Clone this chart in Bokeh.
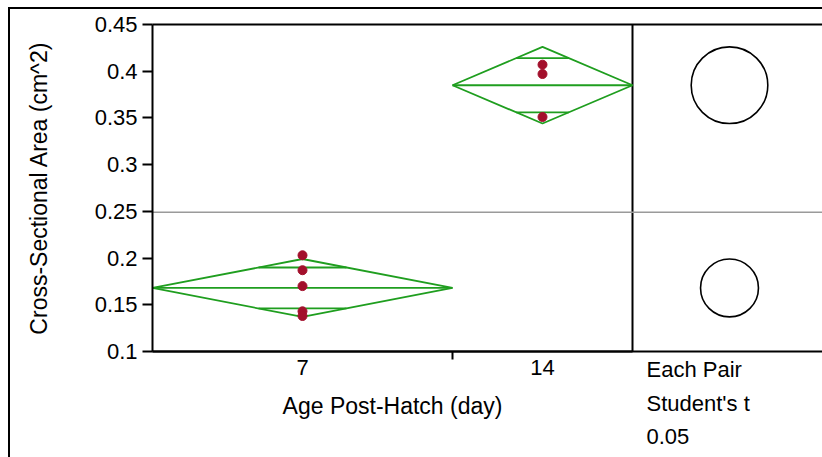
from bokeh.plotting import figure
from bokeh.layouts import column
from bokeh.models import Range1d, FixedTicker
from bokeh.core.properties import value
from bokeh.embed import file_html
from bokeh.resources import INLINE
import math

# ---------------- data ----------------
groups = ["7", "14"]
group_n = [5, 3]
group_means = [0.168, 0.385]
group_ci = [0.031, 0.041]          # half-height of the means diamonds / circle radii
day7_values = [0.203, 0.187, 0.170, 0.143, 0.138]
day14_values = [0.407, 0.397, 0.351]
grand_mean = 0.249
y_ticks = [0.1, 0.15, 0.2, 0.25, 0.3, 0.35, 0.4, 0.45]
y_tick_labels = ["0.1", "0.15", "0.2", "0.25", "0.3", "0.35", "0.4", "0.45"]
x_title = "Age Post-Hatch (day)"
y_title = "Cross-Sectional Area (cm^2)"
compare_texts = ["Each Pair", "Student's t", "0.05"]

FONT = "Liberation Sans"
TICK_FS = "22px"
LAB_FS = "23px"
TXT_FS = "22px"
GREEN = "#1f9e1f"
RED = "#a3102c"

# ---------------- layout constants (pixels, relative to the canvas) ----------------
W, H = 812, 448
PLOT_LEFT, PLOT_TOP = 142, 15      # where the main plot area starts
PLOT_W, PLOT_H = 480, 327          # pixel size of the main plot area
Y0, Y1 = 0.1, 0.45
CIRCLE_PX = 97                     # circle centre, px right of the separator
TEXT_PX = 14                       # texts start, px right of the separator
TEXT_PY = [360, 393.5, 426.5]      # vertical centres of the three texts
YLABEL_PX = 28                     # centre of the rotated y title

# group spans along x (width proportional to n)
starts, ends, centers = [], [], []
acc = 0
for n in group_n:
    starts.append(acc)
    ends.append(acc + n)
    centers.append(acc + n / 2)
    acc += n
total_n = acc

ux = total_n / PLOT_W              # x units per pixel
uy = (Y1 - Y0) / PLOT_H            # y units per pixel


def px_x(px):
    return (px - PLOT_LEFT) * ux


def px_y(py):
    return Y1 - (py - PLOT_TOP) * uy


x_start, x_end = px_x(0), px_x(W)
y_start, y_end = px_y(H), px_y(0)

p = figure(width=W, height=H, x_range=Range1d(x_start, x_end), y_range=Range1d(y_start, y_end),
           output_backend="svg", toolbar_location=None,
           min_border_left=0, min_border_right=0, min_border_top=0, min_border_bottom=0)
p.outline_line_color = None
p.xgrid.visible = False
p.ygrid.visible = False
p.background_fill_color = "white"
p.border_fill_color = "white"

# y axis, fixed at the left edge of the data area
yax = p.yaxis[0]
yax.fixed_location = 0
yax.bounds = (Y0, Y1)
yax.ticker = FixedTicker(ticks=y_ticks)
yax.major_label_overrides = {t: l for t, l in zip(y_ticks, y_tick_labels)}
yax.major_tick_out = 10
yax.major_tick_in = 0
yax.minor_tick_out = 0
yax.minor_tick_in = 0
yax.major_tick_line_width = 2
yax.axis_line_width = 2
yax.major_label_standoff = 5
yax.major_label_text_font = FONT
yax.major_label_text_font_size = TICK_FS
yax.major_label_text_color = "black"

# x axis, fixed at the bottom of the data range
xax = p.xaxis[0]
xax.fixed_location = Y0
xax.bounds = (0, total_n)
xax.ticker = FixedTicker(ticks=centers, minor_ticks=ends[:-1])
xax.major_label_overrides = {c: g for c, g in zip(centers, groups)}
xax.major_tick_out = 0
xax.major_tick_in = 0
xax.minor_tick_out = 8
xax.minor_tick_in = 0
xax.minor_tick_line_width = 2
xax.minor_tick_line_color = "black"
xax.axis_line_width = 2
xax.major_label_standoff = 0
xax.major_label_text_font = FONT
xax.major_label_text_font_size = TICK_FS
xax.major_label_text_color = "black"
xax.axis_label = x_title
xax.axis_label_text_font = FONT
xax.axis_label_text_font_size = LAB_FS
xax.axis_label_text_font_style = "normal"
xax.axis_label_text_color = "black"
xax.axis_label_standoff = 15

# y title (rotated), centred on the data range
p.text(x=[px_x(YLABEL_PX)], y=[(Y0 + Y1) / 2], text=[y_title], angle=math.pi / 2,
       text_font=value(FONT), text_font_size=LAB_FS, text_align="center",
       text_baseline="alphabetic", text_color="black")

# frame lines: top, bottom (across both panels), separator; grand mean line
p.segment(x0=[0, 0, total_n], y0=[Y1, Y0, Y0], x1=[x_end, x_end, total_n], y1=[Y1, Y0, Y1],
          line_color="black", line_width=2)
p.segment(x0=[0], y0=[grand_mean], x1=[x_end], y1=[grand_mean], line_color="#9a9a9a",
          line_width=1.5)

# means diamonds
xs, ys = [], []
for s, e, c, m, ci in zip(starts, ends, centers, group_means, group_ci):
    xs.append([s, c, e, c, s])
    ys.append([m, m + ci, m, m - ci, m])
    xs.append([s, e])
    ys.append([m, m])
    hw = (e - s) / 2 * (1 - 1 / math.sqrt(2))
    for sign in (1, -1):
        xs.append([c - hw, c + hw])
        ys.append([m + sign * ci / math.sqrt(2)] * 2)
p.multi_line(xs=xs, ys=ys, line_color=GREEN, line_width=1.8)

# points
all_vals = [day7_values, day14_values]
for c, vals in zip(centers, all_vals):
    p.scatter(x=[c] * len(vals), y=vals, size=9, fill_color=RED, line_color=RED)

# comparison circles
circle_x = total_n + CIRCLE_PX * ux
p.circle(x=[circle_x] * len(group_means), y=group_means, radius=group_ci, radius_dimension="y",
         fill_color=None, line_color="black", line_width=1.6)

# texts under the circles panel
text_x = total_n + TEXT_PX * ux
p.text(x=[text_x] * len(compare_texts), y=[px_y(v) for v in TEXT_PY], text=compare_texts,
       text_font=value(FONT), text_font_size=TXT_FS, text_baseline="alphabetic",
       text_align="left", text_color="black")

layout = column(p, styles={"margin": "7px 0px 0px 8px", "border-left": "2px solid black",
                           "border-top": "2px solid black"})

open("out.html", "w").write(file_html(layout, INLINE))
